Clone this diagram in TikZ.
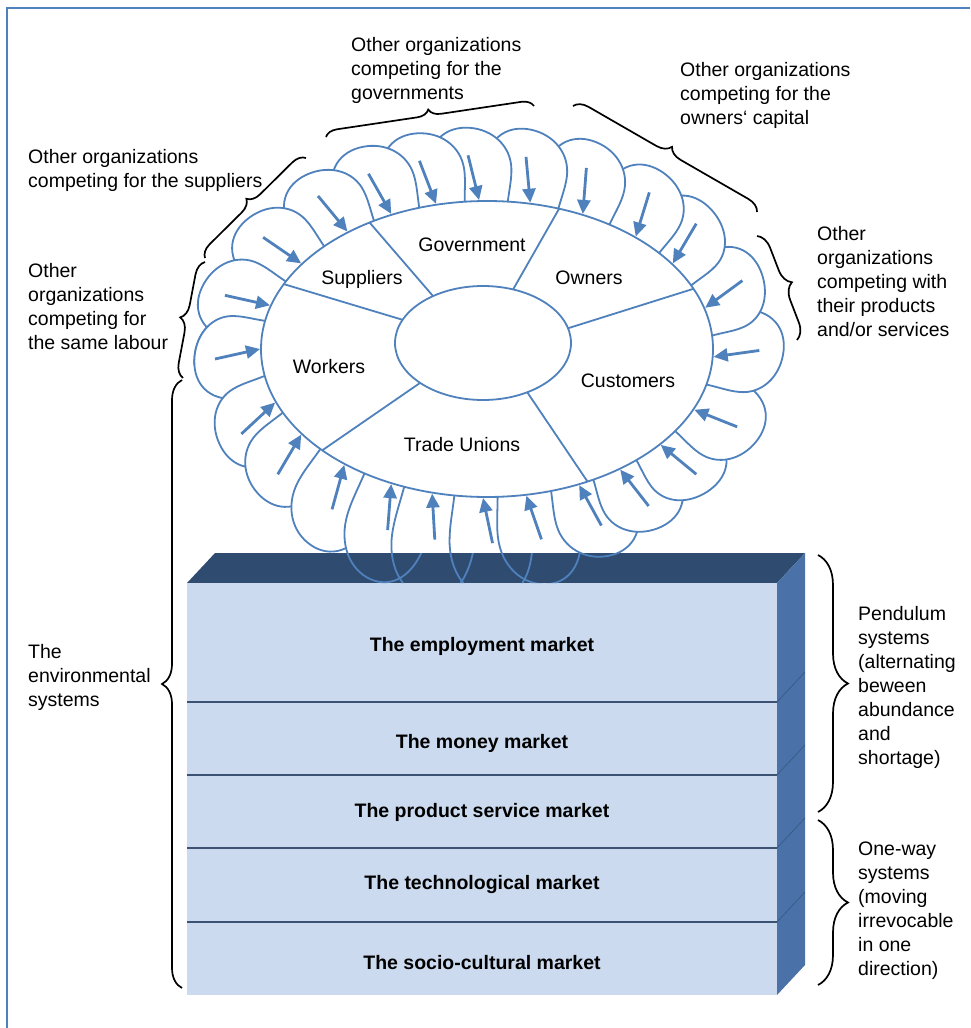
\documentclass[tikz,border=0pt]{standalone}
\usepackage{fontspec}
\setmainfont{Liberation Sans}
\usepackage{tikz}
\usetikzlibrary{arrows.meta,decorations.pathreplacing}
\definecolor{PetalBlue}{HTML}{4F81BD}
\definecolor{TopFace}{HTML}{2F4B6F}
\definecolor{SideFace}{HTML}{4A72A8}
\definecolor{FrontFace}{HTML}{CBDAEE}
\definecolor{BandLine}{HTML}{3B5272}

% local frame of one petal on the outer ellipse: #1 angle, #2 stretch
\newcommand{\petalframe}[2]{%
  \pgfmathsetmacro{\pL}{sqrt((2.26*sin(#1))^2+(1.48*cos(#1))^2)}%
  \pgfmathsetmacro{\pEx}{487+226*cos(#1)}%
  \pgfmathsetmacro{\pEy}{-349-148*sin(#1)}%
  \pgfmathsetmacro{\ptx}{-2.26*sin(#1)/\pL}%
  \pgfmathsetmacro{\pty}{-1.48*cos(#1)/\pL}%
  \pgfmathsetmacro{\pnx}{#2*1.48*cos(#1)/\pL}%
  \pgfmathsetmacro{\pny}{-#2*2.26*sin(#1)/\pL}%
}
\newcommand{\petalpath}{(-50,-25) -- (-50,30) .. controls (-50,60) and (-30,72) .. (-8,70)
  .. controls (15,68) and (33,52) .. (33,30) .. controls (33,15) and (28,5) .. (26,-25) -- cycle}

\begin{document}
\begin{tikzpicture}[x=1pt,y=-1pt,
  inpetal/.style={shift={(\pEx pt,\pEy pt)},x={(\ptx pt,\pty pt)},y={(\pnx pt,\pny pt)}},
  petal/.style={draw=PetalBlue,line width=1.8pt,fill=white,line join=round},
  petaledge/.style={draw=PetalBlue,line width=1.8pt,line join=round},
  ring/.style={draw=PetalBlue,line width=1.8pt,fill=white},
  spoke/.style={PetalBlue,line width=1.8pt},
  inarrow/.style={-{Triangle[length=14pt,width=13pt]},line width=2.8pt,PetalBlue},
  curly/.style={decorate,decoration={brace,amplitude=#1},line width=1.7pt,black},
  note/.style={font=\fontsize{19.5}{24}\selectfont,align=left,inner sep=0pt,anchor=north west},
  ringlabel/.style={font=\fontsize{19.5}{24}\selectfont,inner sep=0pt,anchor=base},
  bandlabel/.style={font=\fontsize{19.5}{24}\selectfont\bfseries,inner sep=0pt,anchor=base}
]
  \useasboundingbox (0,0) rectangle (970,1028);
  \draw[PetalBlue,line width=2.2pt] (7,1028) -- (7,8) -- (970,8);

  % petals, each one lies under the one before it
  \foreach \t/\s in {540/0.95,519/1.0,505/1.05,489/1.25,475/1.4,464/1.5,451/1.45,440/1.3,
      426/1.1,414/1.0,400/0.95,384/1.0,363/1.0,344/0.95,325/0.95,311/1.0,295/1.05,281/1.05,
      268/1.05,257/1.05,245/1.05,232/1.0,215/1.0,197/1.0}{
    \petalframe{\t}{\s}
    \begin{scope}[inpetal]
      \draw[petal] \petalpath;
    \end{scope}
  }
  \begin{scope}
    \clip (150,265) rectangle (300,365);
    \petalframe{540}{0.95}
    \begin{scope}[inpetal]
      \draw[petal] \petalpath;
    \end{scope}
  \end{scope}

  % the block of markets
  \fill[TopFace] (187,583) -- (215,553) -- (805,553) -- (777,583) -- cycle;
  \fill[SideFace] (777,583) -- (805,553) -- (805,965) -- (777,995) -- cycle;
  \fill[FrontFace] (187,583) rectangle (777,995);
  \foreach \yy in {702,775,848,922}{
    \draw[BandLine,line width=1.2pt] (187,\yy) -- (777,\yy);
    \draw[TopFace!70!SideFace,line width=0.6pt] (777,\yy) -- (805,\yy-30);
  }
  \begin{scope}
    \clip (187,583) -- (215,553) -- (805,553) -- (777,583) -- cycle;
    \foreach \t/\s in {426/1.1,440/1.3,451/1.45,464/1.5,475/1.4,489/1.25,505/1.05}{
      \petalframe{\t}{\s}
      \begin{scope}[inpetal]
        \draw[petaledge] \petalpath;
      \end{scope}
    }
  \end{scope}

  \node[bandlabel] (employ) at (482,651) {The employment market};
  \node[bandlabel] (money) at (482,748) {The money market};
  \node[bandlabel] (product) at (482,817) {The product service market};
  \node[bandlabel] (techno) at (482,889) {The technological market};
  \node[bandlabel] (socio) at (482,969) {The socio-cultural market};

  % stakeholder ring
  \draw[ring] (487,349) ellipse [x radius=226pt, y radius=148pt];
  \foreach \t in {197,215,232,245,257,268,281,295,311,325,344,363,384,400,414,426,440,451,
      464,475,489,505,519,540}{
    \petalframe{\t}{1}
    \begin{scope}[inpetal]
      \coordinate (tail) at (-10,46);
      \coordinate (head) at (0,1);
      \draw[inarrow] (tail) -- (head);
    \end{scope}
  }
  \foreach \a/\b [count=\k] in {238.7/235.4,288.6/290,336/345,63.6/59.8,136.8/135.6,206/204}{
    \coordinate (so\k) at ({487+226*cos(\a)},{349+148*sin(\a)});
    \coordinate (si\k) at ({483+88*cos(\b)},{343+57*sin(\b)});
    \draw[spoke] (so\k) -- (si\k);
  }
  \draw[ring] (483,343) ellipse [x radius=88pt, y radius=57pt];

  \node[ringlabel] (govt) at (472,251) {Government};
  \node[ringlabel] (supp) at (362,284) {Suppliers};
  \node[ringlabel] (own) at (589,284) {Owners};
  \node[ringlabel] (work) at (329,373) {Workers};
  \node[ringlabel] (cust) at (628,387) {Customers};
  \node[ringlabel] (union) at (462,451) {Trade Unions};

  % competitors and systems
  \node[note] (govtxt) at (351,37) {Other organizations\\competing for the\\governments};
  \node[note] (owntxt) at (680,62) {Other organizations\\competing for the\\owners‘ capital};
  \node[note] (supptxt) at (28,149) {Other organizations\\competing for the suppliers};
  \node[note] (worktxt) at (28,263) {Other\\organizations\\competing for\\the same labour};
  \node[note] (custtxt) at (817,226) {Other\\organizations\\competing with\\their products\\and/or services};
  \node[note] (envtxt) at (28,644) {The\\environmental\\systems};
  \node[note] (pendtxt) at (858,606) {Pendulum\\systems\\(alternating\\beween\\abundance\\and\\shortage)};
  \node[note] (onetxt) at (858,842) {One-way\\systems\\(moving\\irrevocable\\in one\\direction)};

  \coordinate (ga) at (326,137);  \coordinate (gb) at (534,106);
  \coordinate (oa) at (573,106);  \coordinate (ob) at (757,212);
  \coordinate (ca) at (757,236);  \coordinate (cb) at (797,340);
  \coordinate (sa) at (205,258);  \coordinate (sb) at (306,158);
  \coordinate (wa) at (183,378);  \coordinate (wb) at (205,262);
  \coordinate (ea) at (182,988);  \coordinate (eb) at (182,380);
  \coordinate (pa) at (818,555);  \coordinate (pb) at (818,812);
  \coordinate (na) at (818,820);  \coordinate (nb) at (818,985);
  \draw[curly=12pt] (ga) -- (gb);
  \draw[curly=14pt] (oa) -- (ob);
  \draw[curly=16pt] (ca) -- (cb);
  \draw[curly=13pt] (sa) -- (sb);
  \draw[curly=14pt] (wa) -- (wb);
  \draw[curly=20pt] (ea) -- (eb);
  \draw[curly=30pt] (pa) -- (pb);
  \draw[curly=30pt] (na) -- (nb);
\end{tikzpicture}
\end{document}
